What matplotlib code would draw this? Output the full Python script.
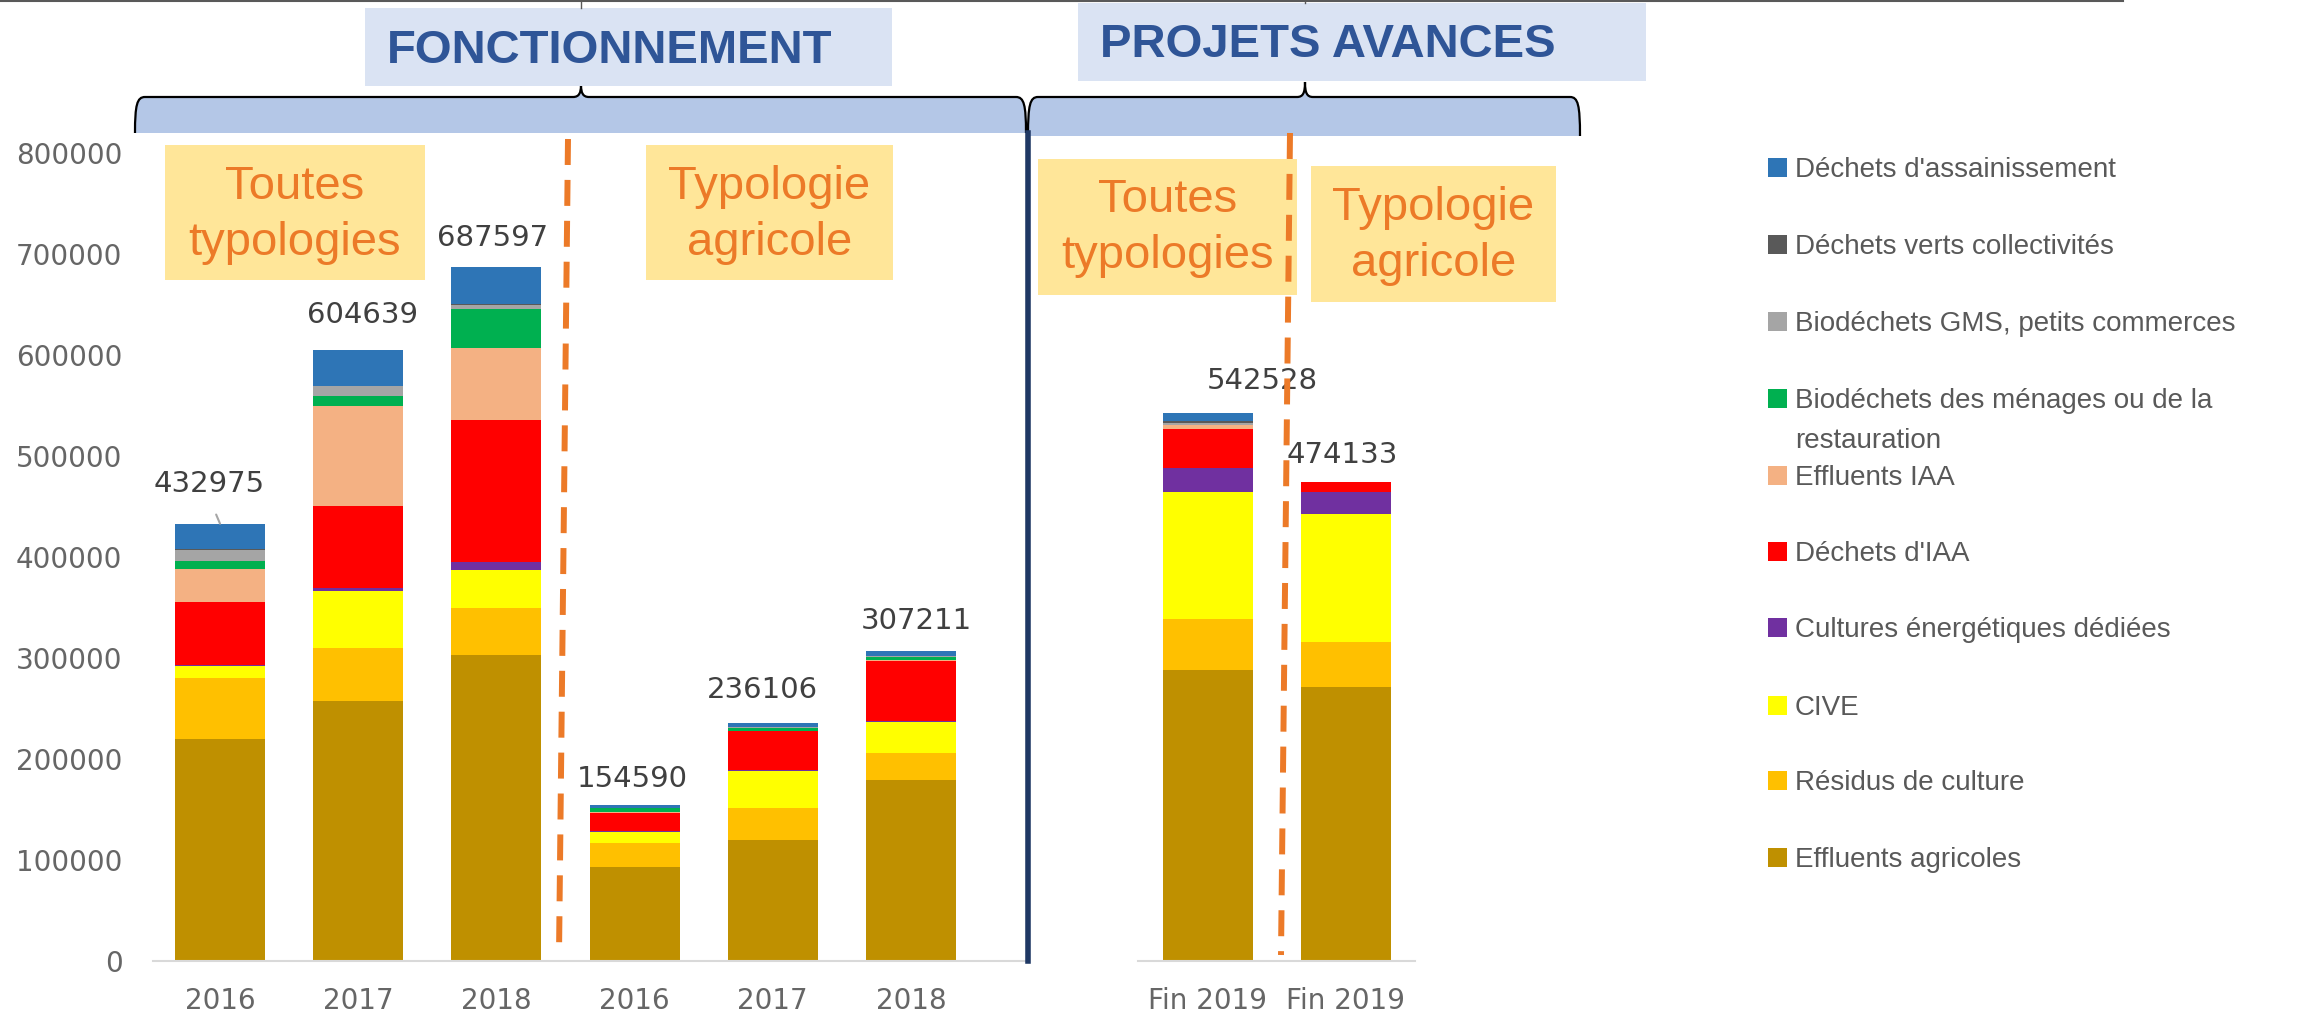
# -*- coding: utf-8 -*-
# Gisement méthanisable : fonctionnement 2016-2018 et projets avancés fin 2019

import numpy as np
import matplotlib
matplotlib.use("Agg")
import matplotlib.pyplot as plt
from matplotlib.path import Path
from matplotlib.patches import PathPatch, Rectangle

plt.rcParams['font.family'] = ['Liberation Sans', 'DejaVu Sans']

# data (tonnes)
x_labels = ["2016", "2017", "2018", "2016", "2017", "2018", "Fin 2019", "Fin 2019"]
totals = [432975, 604639, 687597, 154590, 236106, 307211, 542528, 474133]

effluents_agricoles = [220000, 257700, 303200, 93500, 120200, 178800, 288000, 270900]
residus_culture = [60000, 52600, 46300, 23100, 31200, 26700, 50700, 45200]
cive = [12500, 56200, 38000, 11400, 37000, 31300, 126000, 126900]
cultures_energetiques = [1000, 3200, 7500, 1000, 1000, 1000, 23900, 21700]
dechets_iaa = [61500, 81100, 140600, 17800, 38100, 59000, 38500, 9433]
effluents_iaa = [32700, 99000, 71600, 800, 700, 1000, 3300, 0]
biodechets_menages = [8200, 9900, 38000, 3500, 2500, 3500, 500, 0]
biodechets_gms = [11300, 9500, 4300, 300, 500, 500, 1700, 0]
dechets_verts = [500, 400, 500, 200, 200, 300, 1700, 0]
dechets_assainissement = [25275, 35039, 37597, 2990, 4706, 5111, 8228, 0]

# stacking order, bottom to top
series = [
    ("Effluents agricoles", effluents_agricoles, "#BF9000"),
    ("Résidus de culture", residus_culture, "#FFC000"),
    ("CIVE", cive, "#FFFF00"),
    ("Cultures énergétiques dédiées", cultures_energetiques, "#7030A0"),
    ("Déchets d'IAA", dechets_iaa, "#FF0000"),
    ("Effluents IAA", effluents_iaa, "#F4B183"),
    ("Biodéchets des ménages ou de la\nrestauration", biodechets_menages, "#00B050"),
    ("Biodéchets GMS, petits commerces", biodechets_gms, "#A5A5A5"),
    ("Déchets verts collectivités", dechets_verts, "#595959"),
    ("Déchets d'assainissement", dechets_assainissement, "#2E75B6"),
]

# label offsets from bar top (pixels, right / up)
label_offsets = [(-11, 40), (4, 35), (-4, 29), (-2, 26), (-10, 33), (5, 30), (54, 32), (-4, 27)]

W, H = 2312, 1013
fig = plt.figure(figsize=(W / 100, H / 100), dpi=100)


def px_axes(x0, x1, y_top, y_bot, **kw):
    return fig.add_axes([x0 / W, 1 - y_bot / H, (x1 - x0) / W, (y_bot - y_top) / H], **kw)


ax1 = px_axes(153, 1025, 153, 961)
ax2 = px_axes(1138, 1415, 153, 961)

grey = "#666666"
for ax, idx, xlim in ((ax1, list(range(0, 6)), (-0.485, 5.825)),
                      (ax2, [6, 7], (-0.507, 1.5))):
    pos = np.arange(len(idx))
    bottom = np.zeros(len(idx))
    for name, vals, col in series:
        v = np.array([vals[i] for i in idx], dtype=float)
        ax.bar(pos, v, 0.65, bottom=bottom, color=col, linewidth=0)
        bottom += v
    ax.set_xlim(*xlim)
    ax.set_ylim(0, 800000)
    ax.set_xticks(pos)
    ax.set_xticklabels([x_labels[i] for i in idx], fontsize=20, color=grey,
                       family="DejaVu Sans")
    ax.tick_params(axis="both", length=0)
    ax.tick_params(axis="x", pad=19)
    for s in ("top", "right", "left"):
        ax.spines[s].set_visible(False)
    ax.spines["bottom"].set_color("#D9D9D9")
    ax.spines["bottom"].set_linewidth(1.5)
    ax.patch.set_alpha(0)
    # total labels
    for k, i in enumerate(idx):
        dx, dy = label_offsets[i]
        arrow = None
        if i == 0:
            arrow = dict(arrowstyle="-", color="#A6A6A6", lw=1.5,
                         shrinkA=11, shrinkB=0, relpos=(0.5, 0))
        ax.annotate(str(totals[i]), xy=(pos[k], totals[i]),
                    xytext=(dx * 0.72, dy * 0.72), textcoords="offset points",
                    ha="center", va="center", fontsize=21, color="#404040",
                    family="DejaVu Sans", arrowprops=arrow)

ax1.set_yticks(range(0, 800001, 100000))
ax1.set_yticklabels([str(v) for v in range(0, 800001, 100000)], fontsize=20,
                    color=grey, family="DejaVu Sans")
ax1.tick_params(axis="y", pad=22)
ax2.set_yticks([])

# overlay in pixel coordinates for the annotations
ov = fig.add_axes([0, 0, 1, 1], zorder=5)
ov.set_xlim(0, W)
ov.set_ylim(H, 0)
ov.axis("off")

# top border line and small connectors
ov.plot([0, 2123], [1, 1], color="#595959", lw=1.5)
ov.plot([581, 581], [0, 8], color="#595959", lw=1)
ov.plot([1305, 1305], [0, 3], color="#595959", lw=1)


def brace(x0, x1, xt, ytop, ybot, ytip):
    M, C, L = Path.MOVETO, Path.CURVE4, Path.LINETO
    verts = [(x0, ybot), (x0, ytop + 8), (x0 + 2, ytop), (x0 + 10, ytop),
             (xt - 8, ytop),
             (xt - 2, ytop), (xt, ytop - 4), (xt, ytip),
             (xt, ytop - 4), (xt + 2, ytop), (xt + 8, ytop),
             (x1 - 10, ytop),
             (x1 - 2, ytop), (x1, ytop + 8), (x1, ybot)]
    codes = [M, C, C, C, L, C, C, C, C, C, C, L, C, C, C]
    fill = Path(verts + [(x0, ybot)], codes + [Path.CLOSEPOLY])
    ov.add_patch(PathPatch(fill, facecolor="#B4C7E7", edgecolor="none"))
    ov.add_patch(PathPatch(Path(verts, codes), facecolor="none",
                           edgecolor="black", lw=1.6))


brace(135, 1026, 581, 97, 133, 85)
brace(1028, 1580, 1305, 97, 136, 82)

# section title boxes
title_color = "#2F5597"
ov.add_patch(Rectangle((365, 8), 527, 78, facecolor="#DAE3F3", edgecolor="none"))
ov.text(610, 63, "FONCTIONNEMENT", ha="center", va="baseline", fontsize=34,
        fontweight="bold", color=title_color)
ov.add_patch(Rectangle((1078, 3), 568, 78, facecolor="#DAE3F3", edgecolor="none"))
ov.text(1328, 57, "PROJETS AVANCES", ha="center", va="baseline", fontsize=34,
        fontweight="bold", color=title_color)

# separators
orange = "#EC7A28"
ov.plot([568, 559], [139, 955], color=orange, lw=4.3, linestyle=(0, (4.35, 2.5)))
ov.plot([1290, 1281], [133, 955], color=orange, lw=4.3, linestyle=(0, (4.35, 2.5)))
ov.plot([1028, 1028], [133, 961], color="#1F3864", lw=4)

# typology boxes: (x0, x1, y0, y1, first baseline, text)
boxes = [
    (165, 425, 145, 280, 199, "Toutes\ntypologies"),
    (646, 893, 145, 280, 199, "Typologie\nagricole"),
    (1038, 1297, 159, 295, 212, "Toutes\ntypologies"),
    (1311, 1556, 166, 302, 220, "Typologie\nagricole"),
]
for x0, x1, y0, y1, yb, txt in boxes:
    ov.add_patch(Rectangle((x0, y0), x1 - x0, y1 - y0, facecolor="#FFE699",
                           edgecolor="none"))
    for j, line in enumerate(txt.split("\n")):
        ov.text((x0 + x1) / 2, yb + j * 56, line, ha="center", va="baseline",
                fontsize=34, color=orange)

# legend
legend_y = [167, 244, 321, 398, 475, 551, 627, 705, 780, 857]
for (name, vals, col), y in zip(series[::-1], legend_y):
    ov.add_patch(Rectangle((1768, y - 9.5), 19, 19, facecolor=col, edgecolor="none"))
    for j, line in enumerate(name.split("\n")):
        ov.text(1795, y + 10 + j * 40, line, ha="left", va="baseline",
                fontsize=20, color="#595959")

fig.savefig("out.png", dpi=100)
